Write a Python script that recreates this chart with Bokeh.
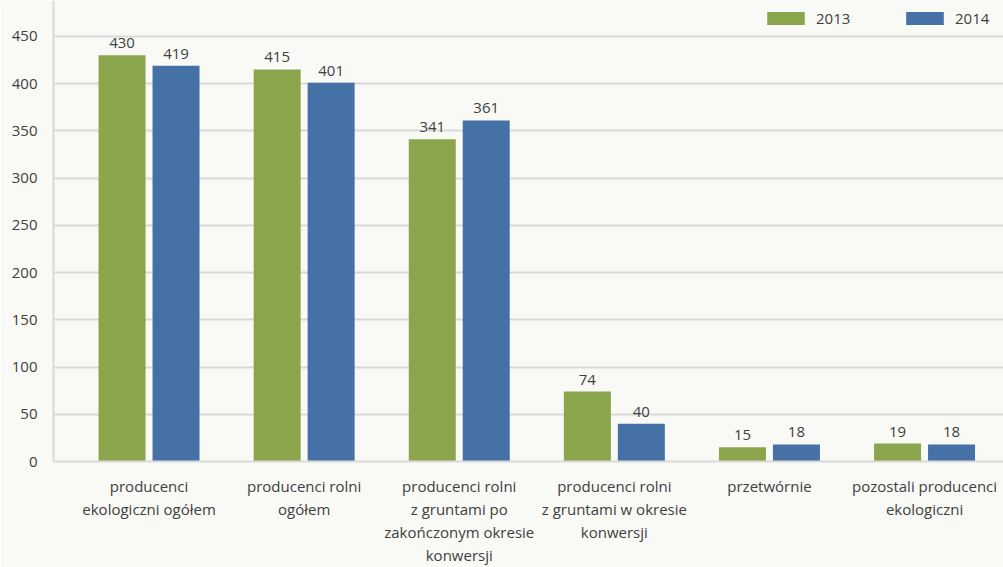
from bokeh.plotting import figure
from bokeh.models import ColumnDataSource, FixedTicker, Legend, LegendItem
from bokeh.transform import dodge
from bokeh.core.properties import value
from bokeh.embed import file_html
from bokeh.resources import INLINE

categories = [
    "producenci\nekologiczni ogółem",
    "producenci rolni\nogółem",
    "producenci rolni\nz gruntami po\nzakończonym okresie\nkonwersji",
    "producenci rolni\nz gruntami w okresie\nkonwersji",
    "przetwórnie",
    "pozostali producenci\nekologiczni",
]
years = ["2013", "2014"]
v2013 = [430, 415, 341, 74, 15, 19]
v2014 = [419, 401, 361, 40, 18, 18]
y_ticks = [0, 50, 100, 150, 200, 250, 300, 350, 400, 450]

GREEN = "#8ba54d"
BLUE = "#4571a6"
TEXT = "#404040"
GRID = "#d9d9d9"
BG = "#f9faf6"
FONT = "Open Sans"
FS = "15px"

xs = list(range(len(categories)))
src = ColumnDataSource(dict(
    x=xs, v2013=v2013, v2014=v2014,
    t2013=[str(v) for v in v2013], t2014=[str(v) for v in v2014],
))

p = figure(width=1003, height=567, output_backend="svg", toolbar_location=None,
           x_range=(-0.616, 5.509), y_range=(0, 488),
           min_border_left=53, min_border_right=0, min_border_top=0,
           min_border_bottom=105)
p.background_fill_color = BG
p.border_fill_color = BG
p.outline_line_color = None

r1 = p.vbar(x=dodge("x", -0.174), top="v2013", width=0.303, source=src,
            fill_color=GREEN, line_color=None)
r2 = p.vbar(x=dodge("x", 0.174), top="v2014", width=0.303, source=src,
            fill_color=BLUE, line_color=None)

for col, off in (("2013", -0.174), ("2014", 0.174)):
    p.text(x=dodge("x", off), y="v" + col, text="t" + col, source=src,
           text_align="center", text_baseline="bottom", y_offset=-7,
           text_font=value(FONT), text_font_size=FS, text_color=TEXT)

# y axis
yax = p.yaxis[0]
yax.ticker = FixedTicker(ticks=y_ticks)
yax.axis_line_color = GRID
yax.axis_line_width = 2
yax.major_tick_line_color = None
yax.minor_tick_line_color = None
yax.major_tick_out = 0
yax.major_label_standoff = 16
yax.major_label_text_font = FONT
yax.major_label_text_font_size = FS
yax.major_label_text_color = TEXT

# x axis
xax = p.xaxis[0]
xax.ticker = FixedTicker(ticks=xs)
xax.major_label_overrides = {i: c for i, c in zip(xs, categories)}
xax.axis_line_color = GRID
xax.axis_line_width = 2
xax.major_tick_line_color = None
xax.minor_tick_line_color = None
xax.major_tick_out = 0
xax.major_label_standoff = 14
xax.major_label_text_font = FONT
xax.major_label_text_font_size = FS
xax.major_label_text_color = TEXT
xax.major_label_text_line_height = 1.15

p.xgrid.grid_line_color = None
p.ygrid.ticker = FixedTicker(ticks=y_ticks)
p.ygrid.grid_line_color = GRID
p.ygrid.grid_line_width = 2

legend = Legend(items=[LegendItem(label=years[0], renderers=[r1]),
                       LegendItem(label=years[1], renderers=[r2])],
                orientation="horizontal", location=(709, 433),
                glyph_width=47, glyph_height=16, label_standoff=7,
                label_width=85, spacing=0, padding=0, margin=0,
                border_line_color=None, background_fill_alpha=0,
                label_text_font=FONT, label_text_font_size=FS,
                label_text_color=TEXT, label_height=16)
p.add_layout(legend, "center")

open("out.html", "w").write(file_html(p, INLINE))
